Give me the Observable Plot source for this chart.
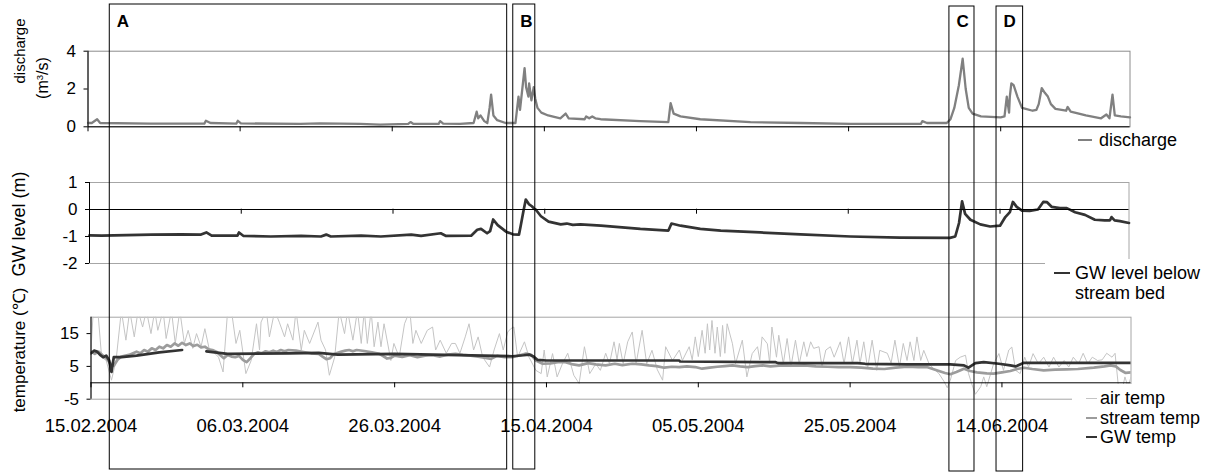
<!DOCTYPE html>
<html><head><meta charset="utf-8">
<script src="https://cdn.jsdelivr.net/npm/d3@7"></script>
<script src="https://cdn.jsdelivr.net/npm/@observablehq/plot@0.6"></script>
<style>
body{margin:0;background:#fff;font-family:"Liberation Sans",Arial,sans-serif;}
#chart{position:relative;width:1215px;height:472px;overflow:hidden;background:#fff;}
#chart svg{position:absolute;left:0;top:0;}
.lg{position:absolute;background:#fff;}
.row{position:absolute;height:20px;line-height:20px;font-size:18px;white-space:nowrap;display:flex;align-items:center;color:#000;}
.sw{display:inline-block;height:0;}
.yt{position:absolute;transform:translate(-50%,-50%) rotate(-90deg);white-space:nowrap;color:#000;line-height:1;}
</style></head><body><div id="chart"></div>
<script>
// ---------- data (day offsets from 15.02.2004, value) ----------
const startDate = "15.02.2004";
const endDay = 137; // 01.07.2004
const tickLabels = ["15.02.2004","06.03.2004","26.03.2004","15.04.2004","05.05.2004","25.05.2004","14.06.2004"];
const dischargeTicks = [0, 2, 4];
const gwTicks = [-2, -1, 0, 1];
const tempTicks = [-5, 5, 15];
const boxLabels = ["A", "B", "C", "D"];
const boxStartDay = [2.8, 55.9, 113.3, 119.5];
const boxEndDay = [55.1, 58.8, 116.6, 123.0];
const seriesNames = ["discharge", "GW level below", "stream bed", "air temp", "stream temp", "GW temp"];

const discharge = [[0,0.2],[0.5,0.2],[1.2,0.4],[1.6,0.2],[8.2,0.17],[15.3,0.17],[15.5,0.32],[16.1,0.2],[19.5,0.17],[19.7,0.32],[20.1,0.18],[27.9,0.15],[30.5,0.18],[35.8,0.15],[38.4,0.12],[42.1,0.15],[42.4,0.25],[42.8,0.15],[46.1,0.15],[46.3,0.3],[46.7,0.17],[48.9,0.15],[50.7,0.2],[51.1,0.8],[51.3,0.45],[51.6,0.6],[52.1,0.3],[52.5,0.2],[52.8,1.0],[53.0,1.7],[53.3,0.6],[53.8,0.35],[54.9,0.2],[56.2,0.2],[56.6,1.6],[56.8,0.9],[57.1,2.0],[57.4,3.1],[57.6,2.1],[57.9,1.6],[58.0,2.3],[58.3,1.4],[58.6,2.1],[58.8,1.5],[59.1,1.0],[59.6,0.75],[60.5,0.6],[62.1,0.45],[62.8,0.7],[63.2,0.45],[65.3,0.4],[65.5,0.55],[65.9,0.45],[66.3,0.55],[66.7,0.45],[67.4,0.4],[72.6,0.3],[76.3,0.25],[76.6,1.25],[77.0,0.7],[77.9,0.55],[80.5,0.4],[87.1,0.25],[93.7,0.2],[100.3,0.15],[109.5,0.15],[109.7,0.3],[110.3,0.2],[111.4,0.2],[112.9,0.2],[113.4,0.4],[113.9,1.0],[114.5,2.2],[115.0,3.6],[115.4,2.0],[115.8,1.0],[116.3,0.7],[117.4,0.55],[120.0,0.5],[120.5,0.55],[120.8,1.6],[121.1,0.75],[121.2,1.6],[121.4,2.3],[121.7,2.2],[122.2,1.6],[122.8,1.0],[123.3,0.95],[124.2,0.85],[124.7,0.9],[125.0,1.2],[125.4,2.05],[125.8,1.8],[126.2,1.6],[126.6,1.2],[127.2,0.95],[128.6,0.85],[128.8,1.05],[129.2,0.8],[131.2,0.6],[133.2,0.45],[133.9,0.65],[134.3,0.45],[134.7,1.7],[135.0,0.6],[135.8,0.55],[137,0.5]];

const gwLevel = [[0,-0.96],[1.6,-0.97],[8.2,-0.93],[12.1,-0.92],[14.7,-0.93],[15.4,-0.85],[16.1,-0.97],[19.5,-0.97],[19.7,-0.85],[20.3,-0.98],[23.9,-1.0],[27.9,-0.98],[30.5,-1.0],[31.2,-0.93],[31.8,-1.0],[35.8,-0.97],[38.4,-1.0],[42.4,-0.93],[43.7,-0.98],[46.3,-0.88],[47.0,-0.98],[50.3,-0.97],[51.1,-0.75],[51.6,-0.72],[52.4,-0.88],[52.8,-0.8],[53.2,-0.37],[53.8,-0.58],[54.9,-0.82],[55.8,-0.92],[56.6,-0.93],[56.8,-0.65],[57.2,-0.05],[57.5,0.37],[57.9,0.2],[58.3,0.12],[58.6,0.03],[58.8,0.0],[59.5,-0.25],[60.5,-0.45],[62.1,-0.55],[62.9,-0.52],[63.7,-0.57],[64.7,-0.55],[67.4,-0.6],[72.6,-0.72],[76.3,-0.78],[76.7,-0.52],[77.9,-0.6],[80.5,-0.72],[83.2,-0.78],[88.4,-0.85],[93.7,-0.92],[100.3,-1.0],[106.8,-1.04],[113.4,-1.05],[114.1,-1.0],[114.6,-0.5],[115.0,0.3],[115.4,-0.16],[116.1,-0.38],[117.4,-0.55],[118.7,-0.63],[120.0,-0.6],[120.7,-0.28],[121.3,-0.1],[121.7,0.28],[122.2,0.1],[122.9,-0.04],[123.9,-0.05],[125.0,0.0],[125.7,0.28],[126.2,0.27],[126.8,0.1],[127.9,0.05],[128.8,0.05],[129.9,-0.1],[131.2,-0.2],[132.5,-0.38],[133.8,-0.4],[134.5,-0.4],[134.7,-0.28],[135.1,-0.4],[135.8,-0.43],[137,-0.5]];

const airTemp = [[0,10],[0.3,22],[0.9,22],[1.4,7.8],[2.0,6.8],[2.7,0.8],[3.3,6.8],[4.0,22],[4.6,13],[5.1,22],[5.7,14],[6.2,22],[6.8,17],[7.3,22],[7.9,15],[8.4,22],[8.8,16],[9.5,22],[9.9,13.5],[10.6,22],[11.1,12],[11.7,22],[12.3,12],[12.8,16],[13.4,10.5],[13.9,15],[14.5,11],[15.0,16.5],[15.6,10],[16.3,9],[16.8,7.8],[17.4,3.3],[18.0,22],[18.5,22],[19.1,12],[19.6,16],[20.4,2.8],[21.1,6.8],[21.8,18],[22.2,10],[22.4,18.5],[23.1,22],[23.5,14],[24.2,22],[24.8,18.5],[25.5,14],[25.9,18],[26.6,13],[27.0,22],[27.7,10],[28.1,16],[28.8,12],[29.9,18.5],[30.3,13],[30.9,10],[31.4,2.3],[32.1,7.8],[32.7,22],[33.4,15],[33.8,22],[34.5,13],[35.1,22],[35.6,12],[36.0,22],[36.4,12],[36.9,22],[37.3,11],[37.8,18.5],[38.2,11],[38.6,18],[39.5,6.8],[39.9,12],[40.6,7.8],[41.3,18],[42.0,22],[42.4,12],[42.8,16],[43.5,12],[44.3,16],[45.0,17],[45.4,10],[46.0,13],[46.8,9],[47.5,12],[48.0,12],[48.6,9],[49.3,14],[49.8,18],[50.4,10],[51.0,14],[51.6,7.8],[52.5,4.8],[53.1,10],[53.8,15],[54.3,10],[54.9,15.5],[55.3,16.5],[55.7,17],[56.2,7.8],[57.1,12.5],[57.7,7.8],[58.6,3.8],[59.3,2.8],[59.7,10],[60.1,1.8],[60.8,8.9],[61.4,1.8],[62.1,5.8],[62.8,9],[63.6,2.3],[64.3,-0.2],[65.0,11],[65.7,2.8],[66.5,5.8],[67.1,3.8],[67.8,9],[68.3,5.8],[68.9,12.5],[69.3,7],[69.6,12],[70.1,5.8],[70.7,12.5],[71.3,15.5],[71.8,5.8],[72.6,16],[73.2,5.8],[73.9,9.9],[74.6,4],[75.3,0.8],[75.7,11],[76.6,6.8],[77.5,10],[77.9,6.8],[78.8,11],[79.2,7],[79.6,14],[80.0,8],[80.5,16],[80.9,9],[81.2,18],[81.5,10],[81.8,19],[82.2,9],[82.5,17],[82.9,8],[83.2,17.5],[83.5,9],[83.8,18],[84.5,11.9],[84.9,5.8],[85.8,13],[86.4,1.8],[87.1,8.9],[87.8,11],[88.1,7],[88.4,14],[89.1,11.9],[89.4,6],[89.7,17],[90.3,7.8],[90.6,14.5],[91.2,5.8],[91.7,13.5],[92.2,4.8],[92.8,13],[93.3,5.8],[93.9,12.5],[94.3,8],[94.8,12.5],[95.2,10.5],[95.9,11],[96.3,4.8],[96.8,10],[97.4,11],[97.9,7.8],[98.7,12.5],[99.2,5.8],[99.8,14],[100.3,5.8],[100.9,13],[101.3,5.8],[101.8,12.5],[102.3,4.3],[102.9,13],[103.5,3.8],[103.9,9.9],[104.9,9],[105.4,6],[105.9,13],[106.5,4.8],[107.0,12],[107.5,6.8],[107.9,12.5],[108.4,6.8],[108.8,14],[109.3,6.8],[109.7,9.9],[110.4,5.8],[111.0,4.3],[111.7,2.8],[112.4,0.3],[112.8,-1.5],[113.2,0.8],[113.9,6.8],[114.5,7.8],[115.2,8.4],[115.6,2.8],[116.0,-0.2],[116.5,-3.5],[117.2,-1.2],[117.6,1.8],[118.0,-1.2],[118.9,5.8],[119.6,8.9],[120.2,3.8],[120.9,10],[121.3,10.9],[121.8,3.8],[122.4,2.8],[123.0,7.8],[123.5,4.8],[124.1,8.9],[124.8,5.8],[125.5,7.8],[126.2,4.8],[126.8,7.8],[127.5,4.8],[128.2,6.8],[128.8,4.8],[129.4,7.8],[130.1,5.8],[130.7,9],[131.3,5.8],[131.9,7.8],[132.6,6.8],[133.2,7],[133.8,9],[134.5,7.8],[134.9,9],[135.3,-0.2],[135.8,-2.5],[136.2,1.8],[136.6,-1.2],[137.0,1.8]];

const streamTemp = [[0,9.5],[0.5,8.8],[1.0,9.5],[1.5,8.5],[2.0,7.5],[2.5,6],[3.0,5.2],[3.5,7],[4.0,8],[5.0,8.5],[6.0,9.5],[6.5,9],[7.0,10],[7.5,9.5],[8.0,10.5],[8.5,10],[9.0,11],[9.5,10.5],[10.0,11.5],[10.5,11],[11.0,12],[11.5,11.3],[12.0,12.2],[12.5,11.5],[13.0,12],[13.5,11.2],[14.0,11.6],[14.5,10.8],[15.0,11],[15.5,10.2],[16.0,10],[16.5,9.5],[17.0,8.5],[17.5,7.5],[18.0,8.5],[18.5,8],[19.0,7.8],[19.5,8.2],[20.0,7],[20.5,6.3],[21.0,7.5],[21.5,8.8],[22.0,9.3],[22.5,9],[23.0,9.6],[23.5,9.3],[24.0,9.8],[24.5,9.4],[25.0,10],[25.5,9.6],[26.0,10],[27.0,9.8],[28.0,9.4],[29.0,9],[30.0,8.8],[30.5,8],[31.0,7.2],[31.5,7.5],[32.0,8.8],[33.0,9.5],[33.5,9.8],[34.0,10],[34.5,9.6],[35.0,10],[36.0,9.7],[37.0,9.3],[38.0,8.8],[39.0,7.4],[39.5,7.6],[40.0,8.3],[41.0,7.9],[42.0,8.4],[43.0,7.8],[44.0,8.3],[45.0,8.4],[46.0,8],[47.0,8.6],[48.0,8.8],[49.0,8.5],[50.0,8.3],[51.0,8],[52.0,7.6],[52.7,7.3],[53.5,8.2],[54.5,7.8],[55.5,7.8],[56.5,8.4],[57.3,8.9],[58.0,8.5],[58.6,6.8],[59.5,5.8],[60.5,5.9],[61.5,6.3],[62.5,6.3],[63.5,5.6],[64.3,5.3],[65.5,6],[66.5,5.6],[67.8,5.3],[69.0,5.8],[70.0,5.4],[71.3,5.8],[72.5,5.6],[73.5,5.3],[74.5,5.1],[75.5,4.6],[76.5,4.9],[77.5,4.8],[78.5,5],[79.6,4.8],[80.5,4.3],[81.5,4.6],[82.5,4.9],[83.5,5.1],[84.5,5.3],[85.5,5],[86.5,4.8],[87.5,5.1],[88.5,5.3],[89.5,5],[91.0,5.3],[92.5,5.2],[94.0,5.3],[95.5,5],[97.0,4.9],[98.5,4.8],[100.0,4.8],[101.5,4.6],[103.0,4.3],[104.5,4.2],[106.0,4.6],[107.5,4.9],[109.0,4.8],[110.1,4.8],[111.4,3.8],[112.5,3],[113.2,2.6],[114.0,3.3],[115.0,4.3],[115.8,3.6],[116.7,3.2],[118.0,2.9],[118.9,2.8],[120.0,3.2],[121.1,3.6],[122.0,4.2],[122.9,4.6],[124.0,4.2],[125.5,3.8],[127.0,4],[128.5,4.1],[130.0,4.2],[132.1,4.6],[133.5,5],[134.3,5.3],[135.0,5],[135.6,3.9],[136.3,3],[137.0,3.2]];

const gwTemp = [[0,9],[0.4,9.8],[0.8,9.5],[1.2,8.5],[1.6,7.8],[2.0,8.3],[2.4,6.8],[2.7,3.3],[3.0,7.8],[4.0,7.8],[6.0,8.3],[9.0,9.3],[12.0,10],[12.1,null],[15.0,null],[15.2,9.6],[18.0,8.8],[26.0,9.0],[30.0,9.1],[32.5,8.6],[40.0,8.8],[45.0,8.6],[55.5,8.1],[57.0,8.4],[57.7,8.6],[58.3,8.0],[58.8,7.0],[60.0,6.8],[77.5,6.8],[77.6,6.5],[90.2,6.3],[90.5,6.0],[101.0,6.0],[102.0,5.8],[107.5,5.6],[113.2,5.6],[115.0,5.3],[115.6,4.6],[116.5,6.0],[117.6,6.3],[119.6,5.8],[121.1,5.3],[121.8,5.0],[122.9,6.1],[137.0,6.1]];

// ---------- helpers ----------
const W = 1215, H = 472;
const T0 = d3.utcParse("%d.%m.%Y")(startDate).getTime();
const toDate = d => new Date(T0 + d * 864e5);
const rows = pairs => pairs.map(([d, v]) => ({date: toDate(d), value: v}));
const xDomain = [toDate(0), toDate(endDay)];
const tickDates = tickLabels.map(d3.utcParse("%d.%m.%Y"));
const GRID = "#a6a6a6";
const FONT = "'Liberation Sans', Arial, sans-serif";
const chart = document.getElementById("chart");

function panel({top, bottom, left, right, yDomain, yTicks, zeroPx, marks, frameColor = GRID, extra = []}) {
  const svg = Plot.plot({
    width: W, height: H,
    marginTop: top, marginBottom: H - bottom, marginLeft: left, marginRight: W - right,
    x: {type: "utc", domain: xDomain},
    y: {domain: yDomain},
    style: {background: "transparent", fontFamily: FONT, fontSize: "17px", color: "#000", overflow: "visible"},
    marks: [
      Plot.frame({stroke: frameColor}),
      ...marks,
      Plot.ruleY([0], {stroke: "#000"}),
      Plot.ruleX([xDomain[0]], {stroke: "#000"}),
      Plot.axisY({ticks: yTicks, tickSize: 4, tickPadding: 8, tickFormat: d => String(d), label: null, fontSize: 17}),
      Plot.axisX({ticks: tickDates, tickSize: 5, tickFormat: () => "", label: null, dy: zeroPx - bottom}),
      ...extra
    ]
  });
  chart.appendChild(svg);
}

// discharge panel
panel({top: 50.7, bottom: 126.3, left: 87.5, right: 1129.5, yDomain: [0, 4], yTicks: dischargeTicks, zeroPx: 126.3, frameColor: "#8c8c8c",
  marks: [Plot.line(rows(discharge), {x: "date", y: "value", stroke: "#808080", strokeWidth: 2.3})]});

// GW level panel
panel({top: 182, bottom: 263, left: 89, right: 1128.5, yDomain: [-2, 1], yTicks: gwTicks, zeroPx: 208.7,
  marks: [Plot.line(rows(gwLevel), {x: "date", y: "value", stroke: "#333333", strokeWidth: 2.7})]});

// temperature panel
panel({top: 316.7, bottom: 398.7, left: 90.5, right: 1130.5, yDomain: [-5, 20], yTicks: tempTicks, zeroPx: 382.3,
  marks: [
    Plot.line(rows(airTemp), {x: "date", y: "value", stroke: "#c4c4c4", strokeWidth: 1, clip: true}),
    Plot.line(rows(streamTemp), {x: "date", y: "value", stroke: "#9c9c9c", strokeWidth: 2.7, clip: true}),
    Plot.line(rows(gwTemp), {x: "date", y: "value", stroke: "#333333", strokeWidth: 2.7, clip: true})
  ],
  extra: [Plot.axisX({ticks: tickDates, tickSize: 0, tickPadding: 20, tickFormat: d3.utcFormat("%d.%m.%Y"), label: null, fontSize: 18.5})]
});

// legends (HTML, white background)
function whiteBox(l, t, w, h) {
  const el = document.createElement("div");
  el.className = "lg";
  Object.assign(el.style, {left: l + "px", top: t + "px", width: w + "px", height: h + "px"});
  chart.appendChild(el);
}
function legendRow(x, yc, color, sw, len, gap, label) {
  const el = document.createElement("div");
  el.className = "row";
  el.style.left = x + "px"; el.style.top = (yc - 10) + "px";
  const s = document.createElement("span");
  s.className = "sw";
  Object.assign(s.style, {width: len + "px", borderTop: sw + "px solid " + (color || "#fff"), marginRight: gap + "px", visibility: color ? "visible" : "hidden"});
  el.appendChild(s);
  el.appendChild(document.createTextNode(label));
  chart.appendChild(el);
}
whiteBox(1045, 259, 170, 48);
whiteBox(1072, 384, 143, 66);
legendRow(1078, 140, "#808080", 2, 14, 7, seriesNames[0]);
legendRow(1054, 273, "#333333", 2.5, 16, 5, seriesNames[1]);
legendRow(1054, 293, "", 2.5, 16, 5, seriesNames[2]);
legendRow(1086, 398, "#c4c4c4", 1, 11, 3, seriesNames[3]);
legendRow(1086, 417.5, "#9c9c9c", 2.5, 11, 3, seriesNames[4]);
legendRow(1086, 437, "#333333", 2.5, 11, 3, seriesNames[5]);

// axis titles
function yTitle(cx, cy, size, html) {
  const el = document.createElement("div");
  el.className = "yt";
  Object.assign(el.style, {left: cx + "px", top: cy + "px", fontSize: size + "px"});
  el.innerHTML = html;
  chart.appendChild(el);
}
yTitle(19, 51, 15, "discharge");
yTitle(43, 78, 16, "(m<sup style='font-size:0.6em;vertical-align:0.6em'>3</sup>/s)");
yTitle(19, 224, 18, "GW level (m)");
yTitle(19, 350, 17, "temperature (℃)");

// boxes A-D
const boxes = boxLabels.map((label, i) => ({label, start: toDate(boxStartDay[i]), end: toDate(boxEndDay[i])}));
const boxSvg = Plot.plot({
  width: W, height: H, marginTop: 4, marginBottom: 3, marginLeft: 88, marginRight: 86,
  x: {type: "utc", domain: xDomain, axis: null},
  style: {background: "transparent", fontFamily: FONT, color: "#000", overflow: "visible"},
  marks: [
    Plot.rect(boxes.slice(0, 2), {x1: "start", x2: "end", stroke: "#000", fill: "none", strokeWidth: 1}),
    Plot.rect(boxes.slice(2), {x1: "start", x2: "end", stroke: "#000", fill: "none", strokeWidth: 1, insetTop: 2, insetBottom: -2}),
    Plot.text(boxes, {x: "start", text: "label", frameAnchor: "top", textAnchor: "start", lineAnchor: "top", dx: 7, dy: 10, fontWeight: "bold", fontSize: 17, fill: "#000"})
  ]
});
chart.appendChild(boxSvg);
</script></body></html>
